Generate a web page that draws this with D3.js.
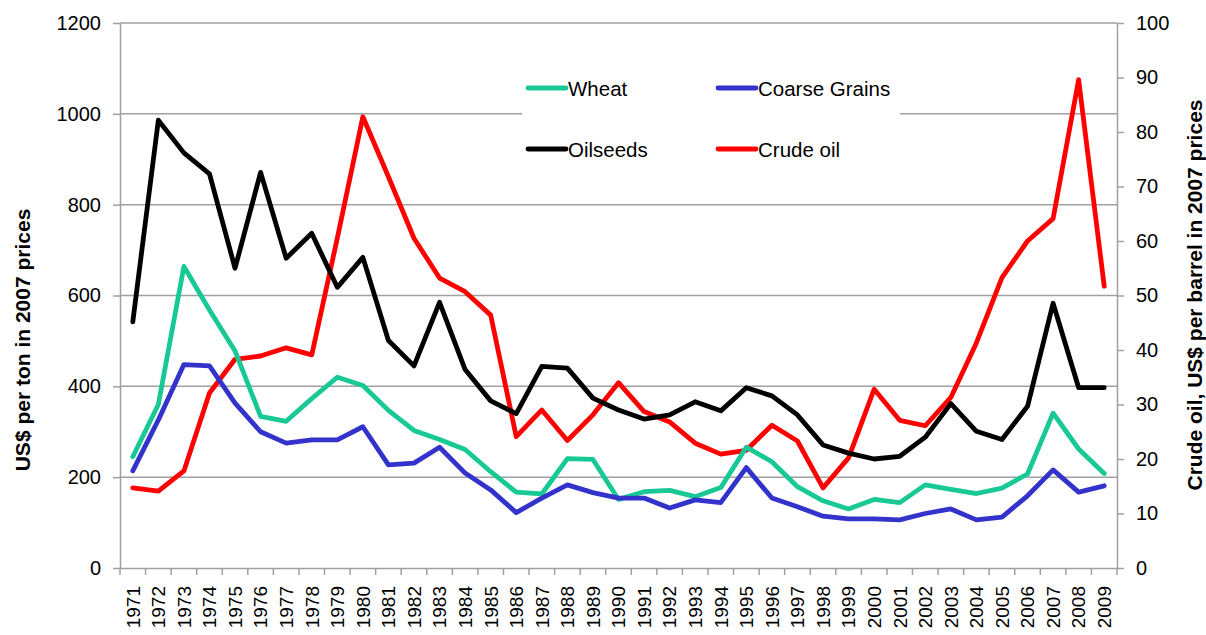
<!DOCTYPE html>
<html><head><meta charset="utf-8">
<script src="https://cdn.jsdelivr.net/npm/d3@7"></script>
<style>body{margin:0;background:#fff;} text{font-family:"Liberation Sans",Arial,sans-serif;}</style>
</head><body><svg id="c" width="1206" height="635"></svg>
<script>
const years = d3.range(1971, 2010).map(String);
const wheat = [245,360,664,568,478,334,323,373,420,402,347,303,283,261,212,167,163,241,239,151,168,171,157,177,266,234,179,148,130,151,144,183,173,164,176,207,341,262,208];
const coarseGrains = [214,326,448,445,363,300,275,282,282,311,227,231,266,209,172,122,154,183,166,154,154,132,150,144,221,154,135,114,108,108,106,120,130,106,112,159,216,167,181];
const oilseeds = [542,986,914,868,660,871,682,737,618,684,501,445,585,437,368,340,444,440,374,348,328,337,366,346,397,379,337,271,253,240,246,288,362,301,283,356,583,397,397];
const crudeOil = [14.7,14.1,17.8,32.1,38.3,38.9,40.4,39.1,60.5,82.8,71.8,60.5,53.2,50.7,46.4,24.1,29.0,23.4,28.1,34.0,28.7,26.8,22.9,20.9,21.6,26.2,23.3,14.7,20.2,32.8,27.1,26.1,31.3,41.3,53.3,60.0,64.1,89.6,51.7];
const leftTicks = [0,200,400,600,800,1000,1200];
const rightTicks = [0,10,20,30,40,50,60,70,80,90,100];

const svg = d3.select("#c");
const L = 120, R = 1117, T = 23, B = 568;
const FONT = "Liberation Sans, Arial, sans-serif";
const x = d3.scaleBand().domain(years).range([L, R]);
const cx = d => x(d) + x.bandwidth()/2;
const yL = d3.scaleLinear().domain([0,1200]).range([B, T]);
const yR = d3.scaleLinear().domain([0,100]).range([B, T]);
const grey = "#a0a0a0";

// gridlines
svg.append("g").selectAll("line").data(leftTicks.filter(v=>v>0)).join("line")
  .attr("x1", L).attr("x2", R).attr("y1", d=>yL(d)).attr("y2", d=>yL(d))
  .attr("stroke", grey).attr("stroke-width", 1.5);

// left axis
const gl = svg.append("g").attr("transform", `translate(${L},0)`)
  .call(d3.axisLeft(yL).tickValues(leftTicks).tickFormat(d3.format("d")).tickSize(7).tickPadding(12).tickSizeOuter(0));
gl.selectAll("path,line").attr("stroke", grey).attr("stroke-width", 1.5);
gl.selectAll("text").attr("font-size", 20).attr("fill", "#000").attr("font-family", FONT);

// right axis
const gr = svg.append("g").attr("transform", `translate(${R},0)`)
  .call(d3.axisRight(yR).tickValues(rightTicks).tickFormat(d3.format("d")).tickSize(7).tickPadding(12).tickSizeOuter(0));
gr.selectAll("path,line").attr("stroke", grey).attr("stroke-width", 1.5);
gr.selectAll("text").attr("font-size", 20).attr("fill", "#000").attr("font-family", FONT);

// bottom axis
const gb = svg.append("g").attr("transform", `translate(0,${B})`)
  .call(d3.axisBottom(x).tickSize(0).tickSizeOuter(0));
gb.select("path").attr("stroke", grey).attr("stroke-width", 1.5);
gb.selectAll("text").attr("transform", "rotate(-90)").attr("x", -18).attr("y", 0).attr("dy", "0.36em")
  .attr("text-anchor", "end").attr("font-size", 19).attr("fill", "#000").attr("font-family", FONT);
const bounds = years.map(d => x(d)).concat([x(years[years.length-1]) + x.bandwidth()]);
gb.append("g").selectAll("line").data(bounds).join("line")
  .attr("x1", d=>d).attr("x2", d=>d).attr("y1", 0).attr("y2", 7)
  .attr("stroke", grey).attr("stroke-width", 1.5);

// legend background
svg.append("rect").attr("x", 522).attr("y", 62).attr("width", 378).attr("height", 112).attr("fill", "#fff");

// lines
const series = [
  {name:"Wheat", values: wheat, color:"#18c995", y: yL},
  {name:"Coarse Grains", values: coarseGrains, color:"#3333cc", y: yL},
  {name:"Oilseeds", values: oilseeds, color:"#000000", y: yL},
  {name:"Crude oil", values: crudeOil, color:"#ff0000", y: yR}
];
const drawOrder = [series[3], series[2], series[0], series[1]];
drawOrder.forEach(s => {
  const line = d3.line().x((d,i)=>cx(years[i])).y(d=>s.y(d));
  svg.append("path").attr("d", line(s.values)).attr("fill","none")
    .attr("stroke", s.color).attr("stroke-width", 4.8).attr("stroke-linejoin","round").attr("stroke-linecap","round");
});

// legend
const legPos = [[528,88],[718,88],[528,149],[718,149]];
series.forEach((s,i) => {
  const [lx, ly] = legPos[i];
  svg.append("line").attr("x1", lx).attr("x2", lx+38).attr("y1", ly).attr("y2", ly)
    .attr("stroke", s.color).attr("stroke-width", 4.8).attr("stroke-linecap","round");
  svg.append("text").attr("x", lx+40).attr("y", ly+7.5).attr("font-size", 20.5).attr("fill","#000").text(s.name);
});

// axis titles
svg.append("text").attr("transform", "translate(30,340) rotate(-90)").attr("text-anchor","middle")
  .attr("font-size", 21).attr("font-weight","bold").text("US$ per ton in 2007 prices");
svg.append("text").attr("transform", "translate(1202,295) rotate(-90)").attr("text-anchor","middle")
  .attr("font-size", 21).attr("font-weight","bold").text("Crude oil, US$ per barrel in 2007 prices");
</script></body></html>
